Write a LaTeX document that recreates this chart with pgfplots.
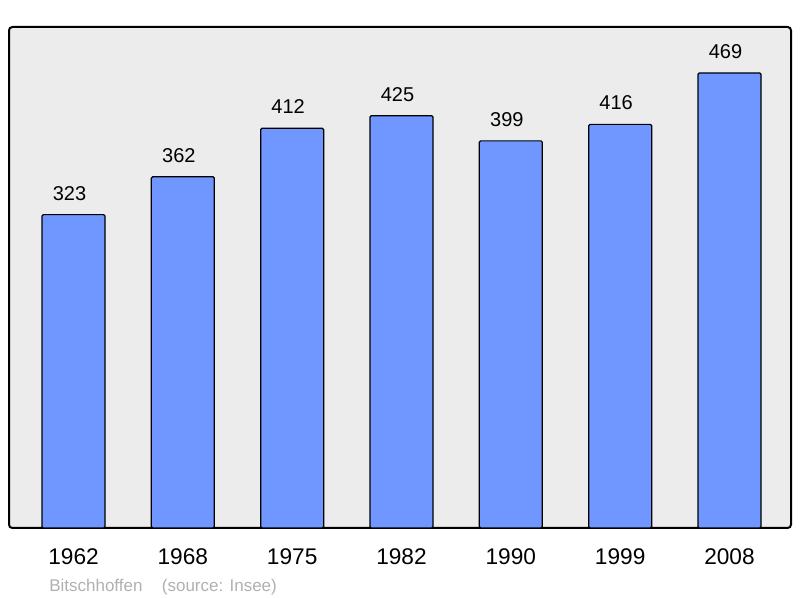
\documentclass[border=0pt]{standalone}
\usepackage{pgfplots}
\pgfplotsset{compat=1.18}
\usepackage{fontspec}
\setmainfont{Liberation Sans}
\definecolor{barblue}{RGB}{112,150,255}
\definecolor{bggray}{RGB}{236,236,236}
\definecolor{srcgray}{RGB}{176,176,176}

\begin{document}
\begin{tikzpicture}
% page = 800x598 px at 0.75pt per px
\path[use as bounding box] (0,0) rectangle (600pt,448.5pt);
\begin{axis}[
    at={(6.75pt,52.5pt)}, anchor=south west,
    scale only axis,
    width=586.5pt, height=375.75pt,
    xmin=-0.59, xmax=6.5625,
    ymin=0, ymax=516.4,
    axis background/.style={fill=bggray, draw=black, line width=1.5pt, rounded corners=2.5pt},
    axis line style={draw=none},
    ytick=\empty,
    xtick=data,
    xticklabels={1962,1968,1975,1982,1990,1999,2008},
    major tick length=0pt,
    xticklabel style={font=\fontsize{17}{17}\selectfont, yshift=-12pt},
    ybar, bar width=47.25pt,
    nodes near coords,
    every node near coord/.append style={font=\fontsize{15}{15}\selectfont, yshift=7pt, xshift=-3pt},
    /pgf/number format/assume math mode=true,
    clip=false,
]
\addplot[fill=barblue, draw=black, line width=0.9pt, rounded corners=1pt] coordinates {
    (0,323) (1,362) (2,412) (3,425) (4,399) (5,416) (6,469)
};
\end{axis}
\node[anchor=base west, text=srcgray, font=\fontsize{12.75}{12.75}\selectfont, inner sep=0pt]
    at (36.75pt,4.5pt) {Bitschhoffen\hspace{11pt} (source: Insee)};
\end{tikzpicture}
\end{document}
